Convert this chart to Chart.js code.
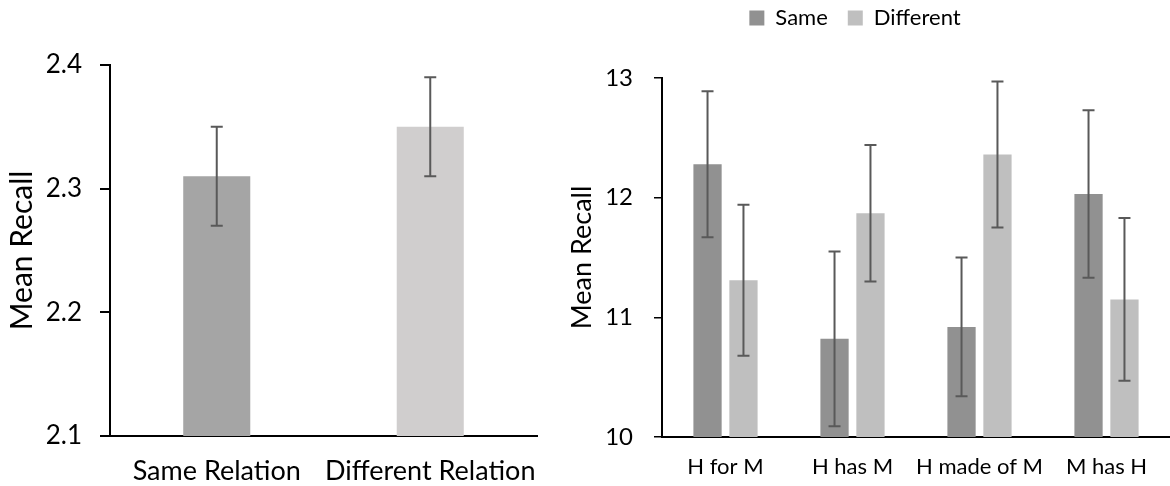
<!DOCTYPE html>
<html>
<head>
<meta charset="utf-8">
<script src="https://cdn.jsdelivr.net/npm/chart.js@4.4.0/dist/chart.umd.min.js"></script>
<style>
  html, body { margin: 0; padding: 0; background: #ffffff; }
  #wrap { position: relative; width: 1170px; height: 486px; overflow: hidden; background: #fff; }
  #c1 { position: absolute; left: 0; top: 0; }
  #c2 { position: absolute; left: 540px; top: 0; }
</style>
</head>
<body>
<div id="wrap">
  <canvas id="c1" width="540" height="486"></canvas>
  <canvas id="c2" width="630" height="486"></canvas>
</div>
<script>
const FONT = 'Lato, Carlito, Calibri, sans-serif';

// Left chart data
const leftCategories = ['Same Relation', 'Different Relation'];
const leftMeans = [2.31, 2.35];
const leftErrors = [0.04, 0.04];
const leftColors = ['#a5a5a5', '#d0cece'];
const leftTicks = [2.1, 2.2, 2.3, 2.4];

// Right chart data
const rightCategories = ['H for M', 'H has M', 'H made of M', 'M has H'];
const seriesNames = ['Same', 'Different'];
const sameMeans = [12.28, 10.82, 10.92, 12.03];
const sameErrors = [0.61, 0.73, 0.58, 0.70];
const diffMeans = [11.31, 11.87, 12.36, 11.15];
const diffErrors = [0.63, 0.57, 0.61, 0.68];
const rightTicks = [10, 11, 12, 13];

const errorBarPlugin = {
  id: 'errorBars',
  afterDatasetsDraw(chart) {
    const ctx = chart.ctx;
    const yScale = chart.scales.y;
    chart.data.datasets.forEach((ds, di) => {
      const meta = chart.getDatasetMeta(di);
      if (!ds.errorBars || meta.hidden) return;
      meta.data.forEach((bar, i) => {
        const v = ds.data[i];
        const e = ds.errorBars[i];
        const x = bar.x;
        const yTop = yScale.getPixelForValue(v + e);
        const yBot = yScale.getPixelForValue(v - e);
        ctx.save();
        ctx.strokeStyle = '#595959';
        ctx.lineWidth = 2;
        ctx.beginPath();
        ctx.moveTo(x, yTop); ctx.lineTo(x, yBot);
        ctx.moveTo(x - 6, yTop); ctx.lineTo(x + 6, yTop);
        ctx.moveTo(x - 6, yBot); ctx.lineTo(x + 6, yBot);
        ctx.stroke();
        ctx.restore();
      });
    });
  }
};

const legendTweak = {
  id: 'legendTweak',
  beforeInit(chart) {
    const lg = chart.legend;
    if (!lg) return;
    const fit = lg.fit;
    lg.fit = function () { fit.call(this); this.height = 78; };
    const draw = lg.draw;
    lg.draw = function (ca) {
      const ctx = this.ctx;
      ctx.save();
      ctx.translate(0, -13);
      draw.call(this, ca);
      ctx.restore();
    };
  }
};

const noSidePadding = s => { s.paddingLeft = 0; s.paddingRight = 0; };

new Chart(document.getElementById('c1'), {
  type: 'bar',
  data: {
    labels: leftCategories,
    datasets: [{
      data: leftMeans,
      errorBars: leftErrors,
      backgroundColor: leftColors,
      borderWidth: 0,
      categoryPercentage: 1.0,
      barPercentage: 0.314
    }]
  },
  options: {
    responsive: false,
    animation: false,
    layout: { padding: { top: 65, right: 3, left: 0, bottom: 0 } },
    plugins: { legend: { display: false }, tooltip: { enabled: false } },
    scales: {
      x: {
        afterFit: s => { s.height = 50; noSidePadding(s); },
        ticks: { font: { family: FONT, size: 27 }, color: '#000', padding: 19, maxRotation: 0, minRotation: 0, autoSkip: false },
        grid: { display: false, drawTicks: false },
        border: { display: true, color: '#000', width: 2 }
      },
      y: {
        min: 2.1, max: 2.4,
        afterBuildTicks: s => { s.ticks = leftTicks.map(value => ({ value })); },
        afterFit: s => { s.width = 110; },
        ticks: { callback: v => Number(v).toFixed(1), font: { family: FONT, size: 26 }, color: '#000', padding: 18 },
        grid: { display: true, drawOnChartArea: false, drawTicks: true, tickLength: 10, color: '#000', lineWidth: 2 },
        border: { display: true, color: '#000', width: 2 },
        title: { display: true, text: 'Mean Recall', font: { family: FONT, size: 30 }, color: '#000', padding: { top: 4, bottom: 0 } }
      }
    }
  },
  plugins: [errorBarPlugin]
});

new Chart(document.getElementById('c2'), {
  type: 'bar',
  data: {
    labels: rightCategories,
    datasets: [
      { label: seriesNames[0], data: sameMeans, errorBars: sameErrors, backgroundColor: '#919191', borderWidth: 0, categoryPercentage: 0.566, barPercentage: 0.786 },
      { label: seriesNames[1], data: diffMeans, errorBars: diffErrors, backgroundColor: '#bfbfbf', borderWidth: 0, categoryPercentage: 0.566, barPercentage: 0.786 }
    ]
  },
  options: {
    responsive: false,
    animation: false,
    layout: { padding: { top: 0, right: 0, left: 0, bottom: 0 } },
    plugins: {
      tooltip: { enabled: false },
      legend: {
        display: true, position: 'top',
        labels: { boxWidth: 15, boxHeight: 15, padding: 20, font: { family: FONT, size: 22 }, color: '#000' }
      }
    },
    scales: {
      x: {
        afterFit: s => { s.height = 49; noSidePadding(s); },
        ticks: { font: { family: FONT, size: 22 }, color: '#000', padding: 17, maxRotation: 0, minRotation: 0, autoSkip: false },
        grid: { display: false, drawTicks: false },
        border: { display: true, color: '#000', width: 2 }
      },
      y: {
        min: 10, max: 13,
        afterBuildTicks: s => { s.ticks = rightTicks.map(value => ({ value })); },
        afterFit: s => { s.width = 122; },
        ticks: { font: { family: FONT, size: 24 }, color: '#000', padding: 21 },
        grid: { display: true, drawOnChartArea: false, drawTicks: true, tickLength: 8, color: '#000', lineWidth: 1.5 },
        border: { display: true, color: '#000', width: 2 },
        title: { display: true, text: 'Mean Recall', font: { family: FONT, size: 27 }, color: '#000', padding: { top: 26, bottom: 0 } }
      }
    }
  },
  plugins: [errorBarPlugin, legendTweak]
});
</script>
</body>
</html>
